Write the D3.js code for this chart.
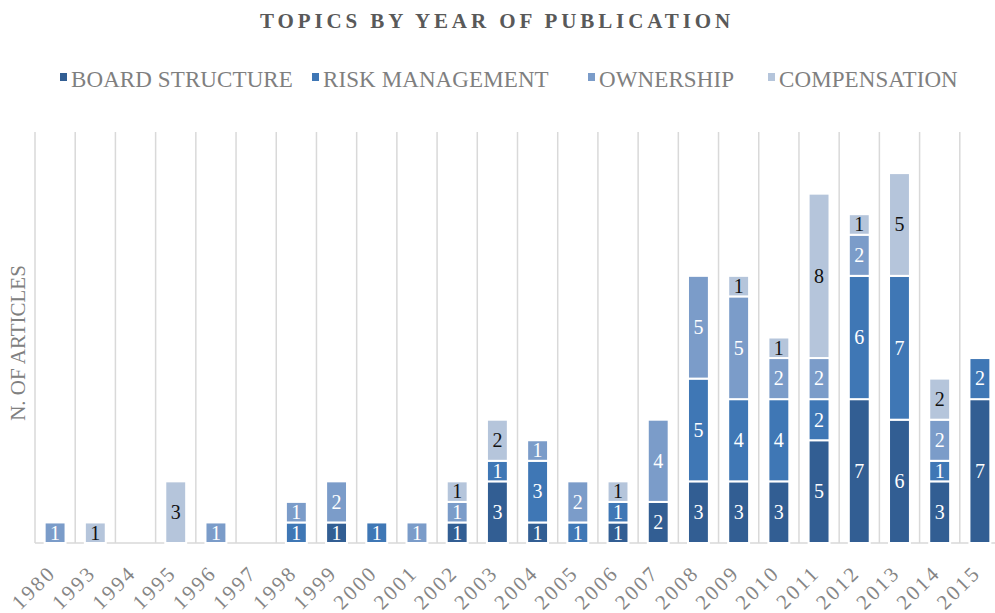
<!DOCTYPE html>
<html>
<head>
<meta charset="utf-8">
<script src="https://cdn.jsdelivr.net/npm/d3@7"></script>
<style>
  html, body { margin: 0; padding: 0; background: #fff; }
</style>
</head>
<body>
<svg id="chart" width="995" height="613"></svg>
<script>
// Publication years on the x axis
const years = ["1980","1993","1994","1995","1996","1997","1998","1999","2000","2001","2002","2003",
               "2004","2005","2006","2007","2008","2009","2010","2011","2012","2013","2014","2015"];

// Articles per topic and year
const boardStructure = [0,0,0,0,0,0,0,1,0,0,1,3,1,0,1,2,3,3,3,5,7,6,3,7];
const riskManagement = [0,0,0,0,0,0,1,0,1,0,0,1,3,1,1,0,5,4,4,2,6,7,1,2];
const ownership      = [1,0,0,0,1,0,1,2,0,1,1,0,1,2,0,4,5,5,2,2,2,0,2,0];
const compensation   = [0,1,0,3,0,0,0,0,0,0,1,2,0,0,1,0,0,1,1,8,1,5,2,0];

const topics = ["BOARD STRUCTURE", "RISK MANAGEMENT", "OWNERSHIP", "COMPENSATION"];
const topicValues = [boardStructure, riskManagement, ownership, compensation];
const colors = ["#325e93", "#3f77b5", "#7b9cc9", "#b5c5db"];
const labelColors = ["#ffffff", "#ffffff", "#ffffff", "#111111"];

const FONT = '"Liberation Serif", "Times New Roman", serif';

const svg = d3.select("#chart");
const margin = { left: 35, right: -5, top: 132, bottom: 70 };
const W = 995, H = 613;

const x = d3.scaleBand()
  .domain(years)
  .range([margin.left, W - margin.right])
  .paddingInner(0.48)
  .paddingOuter(0.24);

const y = d3.scaleLinear()
  .domain([0, 20])
  .range([H - margin.bottom, margin.top]);

// Stack the topics into per-year rows
const rows = years.map((yr, i) => {
  const r = { year: yr };
  topics.forEach((t, k) => { r[t] = topicValues[k][i]; });
  return r;
});
const series = d3.stack().keys(topics)(rows);

const gap = x.paddingInner() * x.step() / 2;

// Vertical separators between years
svg.append("g").selectAll("line")
  .data(years.map(d => x(d) - gap))
  .join("line")
  .attr("x1", d => d).attr("x2", d => d)
  .attr("y1", y(20)).attr("y2", y(0))
  .attr("stroke", "#d9d9d9")
  .attr("stroke-width", 1.5);

// Baseline
svg.append("line")
  .attr("x1", margin.left).attr("x2", W)
  .attr("y1", y(0)).attr("y2", y(0))
  .attr("stroke", "#d9d9d9")
  .attr("stroke-width", 1.5);

// Stacked bars
const layers = svg.append("g").selectAll("g")
  .data(series)
  .join("g")
  .attr("fill", (d, i) => colors[i]);

layers.selectAll("rect")
  .data(d => d.filter(s => s[1] - s[0] > 0))
  .join("rect")
  .attr("x", d => x(d.data.year))
  .attr("width", x.bandwidth())
  .attr("y", d => y(d[1]))
  .attr("height", d => y(d[0]) - y(d[1]))
  .attr("stroke", "#ffffff")
  .attr("stroke-width", 2);

// Segment value labels
const labels = svg.append("g");
series.forEach((s, i) => {
  labels.selectAll(null)
    .data(s.filter(d => d[1] - d[0] > 0))
    .join("text")
    .attr("x", d => x(d.data.year) + x.bandwidth() / 2)
    .attr("y", d => (y(d[0]) + y(d[1])) / 2)
    .attr("dy", "0.34em")
    .attr("text-anchor", "middle")
    .style("font-family", FONT)
    .style("font-size", "20px")
    .attr("fill", labelColors[i])
    .text(d => d[1] - d[0]);
});

// X axis labels, rotated
svg.append("g")
  .selectAll("text")
  .data(years)
  .join("text")
  .attr("transform", d => `translate(${x(d) + x.bandwidth() / 2 + 2},574) rotate(-45)`)
  .attr("text-anchor", "end")
  .style("font-family", FONT)
  .style("font-size", "21px")
  .attr("letter-spacing", 2.5)
  .attr("fill", "#858585")
  .text(d => d);

// Y axis title
svg.append("text")
  .attr("transform", `translate(25,343) rotate(-90)`)
  .attr("text-anchor", "middle")
  .style("font-family", FONT)
  .style("font-size", "21px")
  .attr("fill", "#808080")
  .text("N. OF ARTICLES");

// Chart title
svg.append("text")
  .attr("x", 497)
  .attr("y", 28)
  .attr("text-anchor", "middle")
  .style("font-family", FONT)
  .style("font-size", "21px")
  .style("font-weight", "bold")
  .attr("letter-spacing", 3.9)
  .attr("fill", "#595959")
  .text("TOPICS BY YEAR OF PUBLICATION");

// Legend
const legendX = [60, 312, 588, 768];
const legend = svg.append("g")
  .selectAll("g")
  .data(topics)
  .join("g")
  .attr("transform", (d, i) => `translate(${legendX[i]},0)`);
legend.append("rect")
  .attr("x", 0).attr("y", 73)
  .attr("width", 7).attr("height", 8)
  .attr("fill", (d, i) => colors[i]);
legend.append("text")
  .attr("x", 11).attr("y", 87)
  .style("font-family", FONT)
  .style("font-size", "23px")
  .attr("letter-spacing", 0.1)
  .attr("fill", "#7f7f7f")
  .text(d => d);
</script>
</body>
</html>
